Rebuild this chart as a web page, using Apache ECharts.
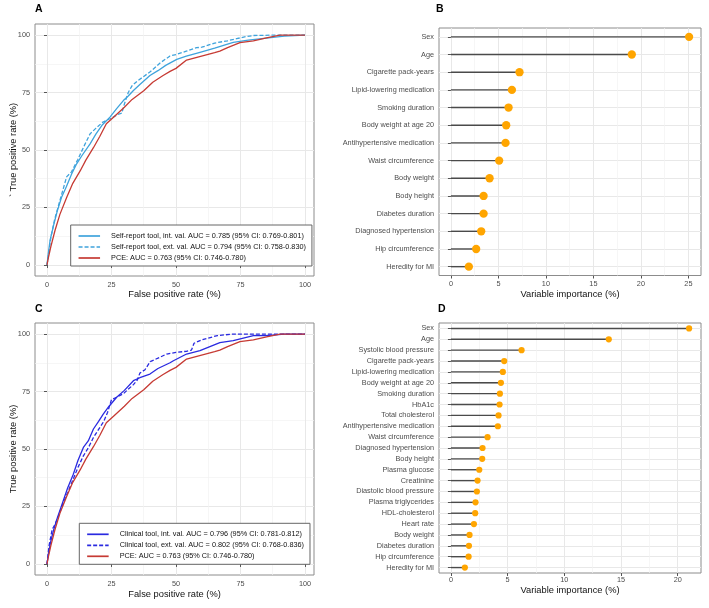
<!DOCTYPE html>
<html><head><meta charset="utf-8">
<script src="https://cdn.jsdelivr.net/npm/echarts@6/dist/echarts.min.js"></script>
<style>html,body{margin:0;padding:0;background:#fff}#c{width:709px;height:608px}</style>
</head><body><div id="c"></div>
<script>
// ---------- DATA ----------
const rocMajorTicks = [0, 25, 50, 75, 100];
const rocMinorTicks = [12.5, 37.5, 62.5, 87.5];

const legendA = [
  'Self-report tool, int. val. AUC = 0.785 (95% CI: 0.769-0.801)',
  'Self-report tool, ext. val. AUC = 0.794 (95% CI: 0.758-0.830)',
  'PCE: AUC = 0.763 (95% CI: 0.746-0.780)'
];
const legendC = [
  'Clinical tool, int. val. AUC = 0.796 (95% CI: 0.781-0.812)',
  'Clinical tool, ext. val. AUC = 0.802 (95% CI: 0.768-0.836)',
  'PCE: AUC = 0.763 (95% CI: 0.746-0.780)'
];

const selfIntX = [0, 0.5, 1.2, 2.5, 4, 5.7, 7.5, 9.5, 11.5, 13.5, 16.7, 19, 21.5, 24.4, 27, 29.6, 31.5, 33.5, 36, 39.9, 43, 46, 50.3, 54, 59.3, 65, 72.2, 78, 85, 92, 100];
const selfIntY = [0, 5, 10.8, 17, 23.5, 29.6, 34, 39.5, 44, 47.5, 52.7, 57, 61, 64.3, 68, 71.5, 73.5, 75.9, 78.5, 82.4, 84.5, 86.8, 89.4, 90.8, 92.5, 94.3, 96.8, 97.8, 98.7, 99.5, 100];

const selfExtX = [0, 0.8, 1.5, 3, 5, 7.6, 9.5, 12, 14.5, 16.7, 19, 21.5, 24.4, 26, 27.5, 29, 30, 31.5, 33, 35, 37.5, 40, 44, 47.7, 50, 54, 58, 60, 65, 70, 73.5, 77, 80, 90, 100];
const selfExtY = [0, 6, 12, 20, 28, 38.3, 40.5, 46, 52, 57, 59.5, 62, 63.6, 64.5, 65.5, 66, 70, 75, 78, 80, 82, 84, 88, 90.9, 91.5, 93, 94.5, 94.7, 96.5, 97.5, 98.4, 99.3, 99.8, 100, 100];

const pceX = [0, 0.5, 1.5, 3.1, 5, 7.7, 10, 12.9, 15, 18, 20.5, 23, 26, 30, 33, 37.5, 41, 45, 47.7, 50, 54.1, 57, 61, 65, 67, 70, 74.8, 80, 85.1, 90.3, 95, 100];
const pceY = [0, 3, 8, 15, 22, 29.6, 35.5, 41, 45.5, 51, 56, 61.4, 64.5, 68.6, 72, 75.8, 79.5, 82.4, 84.2, 85.5, 89.1, 90, 91.2, 92.3, 93, 94.5, 96.7, 97.5, 98.8, 100, 100, 100];

const clinIntX = [0, 0.8, 1.5, 2.5, 4, 6.3, 8, 10.2, 12, 14.1, 16, 18, 20, 21.8, 24, 27, 30, 33.5, 36, 39.9, 43, 47.7, 49, 54.1, 59.3, 67, 72.2, 80, 85.1, 92, 100];
const clinIntY = [0, 6, 10, 14.5, 20, 27.5, 33, 39, 45, 50.7, 53.5, 58.7, 62, 65.2, 68.5, 72.5, 75.5, 79.7, 81, 82.6, 85, 87.5, 88.4, 91.3, 92.8, 96.3, 97.1, 99.3, 99.3, 100, 100];

const clinExtX = [0, 0.8, 2, 3, 4.5, 6.3, 8, 10.2, 12, 14.1, 16, 18, 20, 22, 23.5, 25, 27, 29.6, 31, 33.5, 35, 36, 38, 40, 43, 46.4, 50, 54, 56, 57, 60, 66, 72, 80, 90, 100];
const clinExtY = [0, 8, 15, 17, 21, 26.5, 31, 37, 42, 47, 50.5, 55, 58.5, 62, 66, 71.5, 72.5, 74, 75.5, 78, 80, 83, 84.5, 88, 89.5, 91.3, 92, 92.5, 93, 96, 97.5, 99.3, 100, 100, 100, 100];

const impTicks = [0, 5, 10, 15, 20, 25];
const impMinorTicks = [2.5, 7.5, 12.5, 17.5, 22.5];

const bCats = ['Sex', 'Age', 'Cigarette pack-years', 'Lipid-lowering medication', 'Smoking duration', 'Body weight at age 20', 'Antihypertensive medication', 'Waist circumference', 'Body weight', 'Body height', 'Diabetes duration', 'Diagnosed hypertension', 'Hip circumference', 'Heredity for MI'];
const bVals = [25.07, 19.04, 7.22, 6.42, 6.07, 5.82, 5.75, 5.08, 4.07, 3.44, 3.44, 3.19, 2.66, 1.89];

const dCats = ['Sex', 'Age', 'Systolic blood pressure', 'Cigarette pack-years', 'Lipid-lowering medication', 'Body weight at age 20', 'Smoking duration', 'HbA1c', 'Total cholesterol', 'Antihypertensive medication', 'Waist circumference', 'Diagnosed hypertension', 'Body height', 'Plasma glucose', 'Creatinine', 'Diastolic blood pressure', 'Plasma triglycerides', 'HDL-cholesterol', 'Heart rate', 'Body weight', 'Diabetes duration', 'Hip circumference', 'Heredity for MI'];
const dVals = [21.0, 13.92, 6.23, 4.70, 4.58, 4.41, 4.32, 4.29, 4.20, 4.14, 3.23, 2.79, 2.76, 2.50, 2.35, 2.29, 2.17, 2.14, 2.03, 1.64, 1.59, 1.56, 1.23];

// ---------- STYLE ----------
const FONT = '"Liberation Sans", Arial, Helvetica, sans-serif';
const GRID_MAJOR = '#e8e8e8', GRID_MINOR = '#f2f2f2';
const C_SELF = '#3fa3dc', C_PCE = '#c63a33', C_CLIN = '#2a2ae0';
const zip = (xs, ys) => xs.map((x, i) => [x, ys[i]]);

function majorAxis(gridIndex, min, max, ticks, name, nameGap, labelMargin) {
  return {
    type: 'value', gridIndex, min, max,
    axisLine: { show: false },
    axisTick: { show: true, length: 3, customValues: ticks, lineStyle: { color: '#555', width: 1 } },
    axisLabel: { customValues: ticks, fontSize: 7.3, color: '#4d4d4d', fontFamily: FONT, margin: labelMargin || 5 },
    splitLine: { show: true, lineStyle: { color: GRID_MAJOR, width: 1 } },
    name: name, nameLocation: 'middle', nameGap: nameGap, nameMoveOverlap: false,
    nameTextStyle: { fontSize: 9.3, color: '#111', fontFamily: FONT }
  };
}
function minorAxis(gridIndex, min, max, ticks, position) {
  return {
    type: 'value', gridIndex, min, max, position,
    axisLine: { show: false },
    axisTick: { show: false, customValues: ticks },
    axisLabel: { show: false, customValues: ticks },
    splitLine: { show: true, lineStyle: { color: GRID_MINOR, width: 0.7 } }
  };
}
function catAxis(gridIndex, cats) {
  return {
    type: 'category', gridIndex, data: cats, inverse: true,
    axisLine: { show: false },
    axisTick: { show: true, alignWithLabel: true, interval: 0, length: 3, lineStyle: { color: '#555', width: 1 } },
    axisLabel: { interval: 0, fontSize: 7.3, color: '#4d4d4d', fontFamily: FONT, margin: 5 },
    splitLine: { show: true, alignWithLabel: true, interval: 0, lineStyle: { color: GRID_MAJOR, width: 1 } }
  };
}
const gridBase = { show: true, borderColor: '#8c8c8c', borderWidth: 1, backgroundColor: 'transparent', containLabel: false };

function legendCfg(names, left, top) {
  return {
    data: names, left, top, orient: 'vertical', selectedMode: false,
    itemWidth: 21.5, itemHeight: 10, itemGap: 3,
    padding: [7, 6, 4, 7], borderColor: '#666', borderWidth: 1, borderRadius: 0, backgroundColor: '#fff',
    lineStyle: { width: 1.7 },
    itemStyle: { opacity: 0, borderWidth: 0 },
    formatter: n => '{t|' + n + '}',
    textStyle: { color: '#111', fontFamily: FONT, fontSize: 7.3, rich: { t: { padding: [0, 0, 0, 6], fontSize: 7.3, color: '#111', fontFamily: FONT } } }
  };
}
function rocLine(name, xs, ys, color, dashed, xi, yi) {
  return {
    type: 'line', name, xAxisIndex: xi, yAxisIndex: yi, data: zip(xs, ys),
    symbol: 'none', showSymbol: false, animation: false, z: 3,
    lineStyle: { color, width: 1.3, type: dashed ? [4, 2] : 'solid' },
    itemStyle: { color }
  };
}

const option = {
  backgroundColor: '#fff',
  animation: false,
  textStyle: { fontFamily: FONT },
  grid: [
    Object.assign({ left: 35, top: 24, width: 279, height: 252 }, gridBase),
    Object.assign({ left: 439, top: 28, width: 262, height: 247.5 }, gridBase),
    Object.assign({ left: 35, top: 323, width: 279, height: 252 }, gridBase),
    Object.assign({ left: 439, top: 323, width: 262, height: 250 }, gridBase)
  ],
  xAxis: [
    majorAxis(0, -4.65, 103.5, rocMajorTicks, 'False positive rate (%)', 14),
    minorAxis(0, -4.65, 103.5, rocMinorTicks, 'top'),
    majorAxis(1, -1.2535, 26.3235, impTicks, 'Variable importance (%)', 14.5),
    minorAxis(1, -1.2535, 26.3235, impMinorTicks, 'top'),
    majorAxis(2, -4.65, 103.5, rocMajorTicks, 'False positive rate (%)', 15),
    minorAxis(2, -4.65, 103.5, rocMinorTicks, 'top'),
    majorAxis(3, -1.05, 22.05, impTicks.filter(v => v <= 22), 'Variable importance (%)', 12.5, 3.5),
    minorAxis(3, -1.05, 22.05, impMinorTicks.filter(v => v <= 22), 'top')
  ],
  yAxis: [
    majorAxis(0, -4.8, 104.8, rocMajorTicks, '` True positive rate (%)', 17),
    minorAxis(0, -4.8, 104.8, rocMinorTicks, 'right'),
    catAxis(1, bCats),
    majorAxis(2, -4.8, 104.8, rocMajorTicks, 'True positive rate (%)', 17),
    minorAxis(2, -4.8, 104.8, rocMinorTicks, 'right'),
    catAxis(3, dCats)
  ],
  legend: [legendCfg(legendA, 70.7, 225), legendCfg(legendC, 79.3, 523.3)],
  graphic: [
    { type: 'text', left: 35, top: 4, style: { text: 'A', font: 'bold 10.5px ' + FONT, fill: '#000' } },
    { type: 'text', left: 436, top: 4, style: { text: 'B', font: 'bold 10.5px ' + FONT, fill: '#000' } },
    { type: 'text', left: 35, top: 304, style: { text: 'C', font: 'bold 10.5px ' + FONT, fill: '#000' } },
    { type: 'text', left: 438, top: 304, style: { text: 'D', font: 'bold 10.5px ' + FONT, fill: '#000' } }
  ],
  series: [
    rocLine(legendA[0], selfIntX, selfIntY, C_SELF, false, 0, 0),
    rocLine(legendA[1], selfExtX, selfExtY, C_SELF, true, 0, 0),
    rocLine(legendA[2], pceX, pceY, C_PCE, false, 0, 0),
    rocLine(legendC[0], clinIntX, clinIntY, C_CLIN, false, 4, 3),
    rocLine(legendC[1], clinExtX, clinExtY, C_CLIN, true, 4, 3),
    rocLine(legendC[2], pceX, pceY, C_PCE, false, 4, 3),
    { type: 'bar', xAxisIndex: 2, yAxisIndex: 2, data: bVals, barWidth: 1.4, itemStyle: { color: '#4a4a4a' }, z: 2 },
    { type: 'scatter', xAxisIndex: 2, yAxisIndex: 2, data: bVals, symbolSize: 8.3, itemStyle: { color: '#ffa500', opacity: 1 }, z: 4 },
    { type: 'bar', xAxisIndex: 6, yAxisIndex: 5, data: dVals, barWidth: 1.4, itemStyle: { color: '#4a4a4a' }, z: 2 },
    { type: 'scatter', xAxisIndex: 6, yAxisIndex: 5, data: dVals, symbolSize: 6.2, itemStyle: { color: '#ffa500', opacity: 1 }, z: 4 }
  ]
};
const chart = echarts.init(document.getElementById('c'), null, { renderer: 'canvas' });
chart.setOption(option);
</script></body></html>
